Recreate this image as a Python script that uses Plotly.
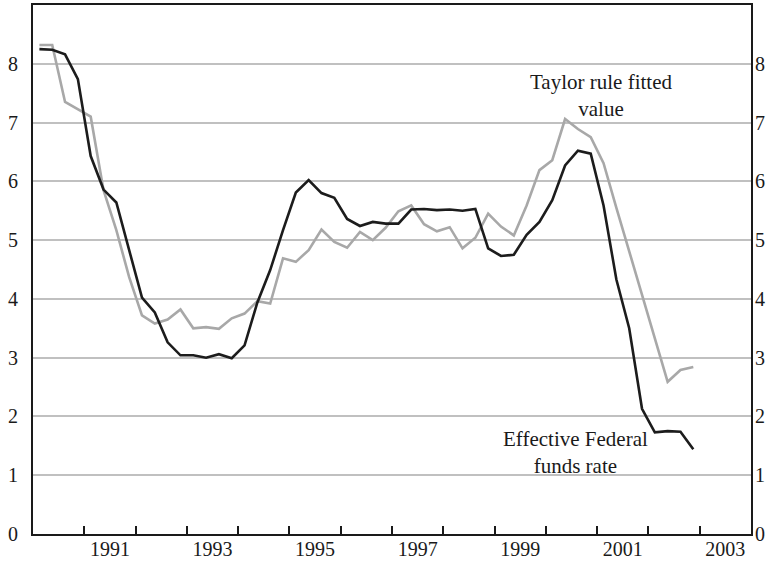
import plotly.graph_objects as go

# Quarterly data, 1990Q1 - 2002Q4
quarters = [f"{y}Q{q}" for y in range(1990, 2003) for q in range(1, 5)]
fed_funds = [8.25, 8.24, 8.16, 7.74,
             6.43, 5.86, 5.64, 4.82,
             4.02, 3.77, 3.26, 3.04,
             3.04, 3.00, 3.06, 2.99,
             3.21, 3.94, 4.49, 5.17,
             5.81, 6.02, 5.80, 5.72,
             5.36, 5.24, 5.31, 5.28,
             5.28, 5.52, 5.53, 5.51,
             5.52, 5.50, 5.53, 4.86,
             4.73, 4.75, 5.09, 5.31,
             5.68, 6.27, 6.52, 6.47,
             5.59, 4.33, 3.50, 2.13,
             1.73, 1.75, 1.74, 1.44]
taylor = [8.32, 8.32, 7.35, 7.23,
          7.10, 5.85, 5.17, 4.37,
          3.72, 3.58, 3.65, 3.82,
          3.50, 3.52, 3.49, 3.67,
          3.75, 3.96, 3.92, 4.69,
          4.63, 4.83, 5.18, 4.97,
          4.87, 5.14, 5.00, 5.21,
          5.49, 5.59, 5.27, 5.15,
          5.22, 4.86, 5.04, 5.45,
          5.23, 5.08, 5.59, 6.19,
          6.36, 7.06, 6.89, 6.75,
          6.31, 5.55, 4.80, 4.05,
          3.30, 2.59, 2.79, 2.84]
year_labels = ["1991", "1993", "1995", "1997", "1999", "2001", "2003"]
y_ticks = [0, 1, 2, 3, 4, 5, 6, 7, 8]

# time position of each quarter (mid-quarter)
xpos = [int(q[:4]) + (int(q[-1]) - 0.5) / 4 for q in quarters]
label_pos = [int(y) + 0.5 for y in year_labels]
year_starts = list(range(1991, 2004))

FONT = "Liberation Serif, Times New Roman, DejaVu Serif, serif"
fig = go.Figure()
fig.add_trace(go.Scatter(x=xpos, y=taylor, mode="lines",
                         line=dict(color="#a8a8a8", width=2.6),
                         name="Taylor rule fitted value", showlegend=False))
fig.add_trace(go.Scatter(x=xpos, y=fed_funds, mode="lines", yaxis="y2",
                         line=dict(color="#1c1c1c", width=2.6),
                         name="Effective Federal funds rate", showlegend=False))

fig.update_layout(
    width=775, height=562,
    margin=dict(l=33, r=24, t=5, b=28),
    paper_bgcolor="white", plot_bgcolor="white",
    font=dict(family=FONT, size=20, color="#1a1a1a"),
    xaxis=dict(range=[1990, 2004], tickmode="array", tickvals=label_pos,
               ticktext=year_labels, ticks="", showgrid=False, zeroline=False,
               showline=True, linecolor="#1a1a1a", linewidth=2, mirror=True,
               ticklabelstandoff=-4, automargin=False,
               minor=dict(tickmode="array", tickvals=year_starts, ticks="inside",
                          ticklen=8, tickwidth=1.5, tickcolor="#1a1a1a", showgrid=False)),
    yaxis=dict(range=[0, 9], tickmode="array", tickvals=y_ticks, ticks="",
               showgrid=True, gridcolor="#c0c0c0", gridwidth=1.5, zeroline=False,
               showline=True, linecolor="#1a1a1a", linewidth=2, mirror=True,
               ticklabelstandoff=9, automargin=False),
    yaxis2=dict(range=[0, 9], overlaying="y", side="right", tickmode="array",
                tickvals=y_ticks, ticks="", showgrid=False, zeroline=False,
                showline=False, ticklabelstandoff=3, automargin=False),
    annotations=[
        dict(x=2001.07, y=7.46, xref="x", yref="y", text="Taylor rule fitted<br>value",
             showarrow=False, font=dict(family=FONT, size=21, color="#1a1a1a"),
             align="center"),
        dict(x=2000.57, y=1.39, xref="x", yref="y", text="Effective Federal<br>funds rate",
             showarrow=False, font=dict(family=FONT, size=21, color="#1a1a1a"),
             align="center"),
    ],
)

fig.write_html("out.html", config={"displayModeBar": False},
               post_script="document.body.style.margin='0';document.body.style.padding='0';")
